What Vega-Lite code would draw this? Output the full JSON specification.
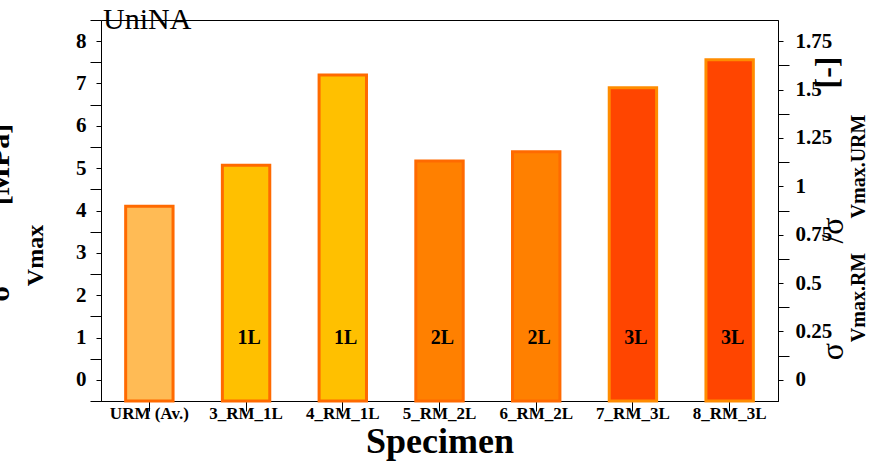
{
  "$schema": "https://vega.github.io/schema/vega-lite/v6.json",
  "width": 677,
  "height": 381,
  "autosize": {"type": "none"},
  "padding": {"left": 101, "top": 20, "right": 91, "bottom": 64},
  "background": "white",
  "config": {
    "view": {"stroke": "black", "strokeWidth": 1},
    "font": "Liberation Serif",
    "axis": {"domainColor": "black", "tickColor": "black", "labelColor": "black", "titleColor": "black", "grid": false, "labelFont": "Liberation Serif", "titleFont": "Liberation Serif"}
  },
  "title": {"text": "UniNA", "anchor": "start", "frame": "group", "font": "Liberation Serif", "fontSize": 30, "fontWeight": "normal", "baseline": "alphabetic", "offset": -39, "dx": 2, "color": "black"},
  "data": {"values": [
    {"specimen": "URM (Av.)", "stress": 4.1, "group": "URM", "label": ""},
    {"specimen": "3_RM_1L", "stress": 5.07, "group": "1L", "label": "1L"},
    {"specimen": "4_RM_1L", "stress": 7.2, "group": "1L", "label": "1L"},
    {"specimen": "5_RM_2L", "stress": 5.17, "group": "2L", "label": "2L"},
    {"specimen": "6_RM_2L", "stress": 5.39, "group": "2L", "label": "2L"},
    {"specimen": "7_RM_3L", "stress": 6.9, "group": "3L", "label": "3L"},
    {"specimen": "8_RM_3L", "stress": 7.56, "group": "3L", "label": "3L"}
  ]},
  "encoding": {
    "x": {"field": "specimen", "type": "nominal", "sort": null,
      "scale": {"paddingInner": 0.51, "paddingOuter": 0.255},
      "axis": {"title": "Specimen", "labelAngle": 0, "tickSize": 10, "labelPadding": -6, "labelFontSize": 17, "labelFontWeight": "bold", "titleFontSize": 36, "titleFontWeight": "bold", "titleY": 51, "titleBaseline": "alphabetic"}}
  },
  "layer": [
    {
      "mark": {"type": "bar", "strokeWidth": 3},
      "encoding": {
        "y": {"field": "stress", "type": "quantitative", "scale": {"domain": [-0.5, 8.5], "nice": false, "zero": false},
          "axis": {"orient": "left", "values": [0, 1, 2, 3, 4, 5, 6, 7, 8], "tickSize": 5, "labelPadding": 10, "labelFontSize": 21, "labelFontWeight": "bold",
            "title": "[MPa]", "titleFontSize": 30, "titleFontWeight": "bold", "titleAngle": 270, "titleAlign": "center", "titleBaseline": "alphabetic", "titleX": -93, "titleY": 144}},
        "y2": {"datum": -0.5},
        "fill": {"field": "group", "type": "nominal", "scale": {"domain": ["URM", "1L", "2L", "3L"], "range": ["#FFBB55", "#FFC000", "#FF8000", "#FF4500"]}, "legend": null},
        "stroke": {"field": "group", "type": "nominal", "scale": {"domain": ["URM", "1L", "2L", "3L"], "range": ["#FF6A00", "#FF6A00", "#FF6A00", "#FF8C00"]}, "legend": null}
      }
    },
    {
      "transform": [{"filter": "datum.label != ''"}],
      "mark": {"type": "text", "font": "Liberation Serif", "fontSize": 20, "fontWeight": "bold", "fill": "black", "dx": 3, "baseline": "middle"},
      "encoding": {
        "text": {"field": "label"},
        "y": {"datum": 1, "type": "quantitative", "scale": {"domain": [-0.5, 8.5], "nice": false, "zero": false},
          "axis": {"orient": "left", "values": [-0.5, 0.5, 1.5, 2.5, 3.5, 4.5, 5.5, 6.5, 7.5, 8.5], "tickSize": 11, "labels": false, "domain": false,
            "title": "Vmax", "titleFontSize": 24, "titleFontWeight": "bold", "titleAngle": 270, "titleAlign": "center", "titleBaseline": "alphabetic", "titleX": -59, "titleY": 235}}
      }
    },
    {
      "mark": {"type": "point", "opacity": 0, "size": 0},
      "encoding": {
        "y": {"datum": 0, "type": "quantitative", "scale": {"domain": [-0.5, 8.5], "nice": false, "zero": false},
          "axis": {"orient": "left", "ticks": false, "labels": false, "domain": false,
            "title": "σ", "titleFontSize": 30, "titleFontWeight": "bold", "titleAngle": 270, "titleAlign": "center", "titleBaseline": "alphabetic", "titleX": -93, "titleY": 273}}
      }
    },
    {
      "mark": {"type": "point", "opacity": 0, "size": 0},
      "encoding": {
        "y": {"datum": 0, "type": "quantitative", "scale": {"domain": [-0.109375, 1.859375], "nice": false, "zero": false},
          "axis": {"orient": "right", "values": [0, 0.25, 0.5, 0.75, 1, 1.25, 1.5, 1.75], "format": ".3~g", "tickSize": 5, "labelPadding": 12, "labelFontSize": 21, "labelFontWeight": "bold", "labelAlign": "left",
            "title": "[-]", "titleFontSize": 32, "titleFontWeight": "bold", "titleAngle": 270, "titleAlign": "center", "titleBaseline": "alphabetic", "titleX": 58, "titleY": 52}}
      }
    },
    {
      "mark": {"type": "point", "opacity": 0, "size": 0},
      "encoding": {
        "y": {"datum": 0, "type": "quantitative", "scale": {"domain": [-0.109375, 1.859375], "nice": false, "zero": false},
          "axis": {"orient": "right", "values": [0.125, 0.375, 0.625, 0.875, 1.125, 1.375, 1.625], "tickSize": 11, "labels": false, "domain": false,
            "title": "Vmax.RM", "titleFontSize": 20, "titleFontWeight": "bold", "titleAngle": 270, "titleAlign": "center", "titleBaseline": "alphabetic", "titleX": 86, "titleY": 277}}
      }
    },
    {
      "mark": {"type": "point", "opacity": 0, "size": 0},
      "encoding": {
        "y": {"datum": 0, "type": "quantitative", "scale": {"domain": [-0.109375, 1.859375], "nice": false, "zero": false},
          "axis": {"orient": "right", "ticks": false, "labels": false, "domain": false,
            "title": "σ", "titleFontSize": 32, "titleFontWeight": "normal", "titleAngle": 270, "titleAlign": "center", "titleBaseline": "alphabetic", "titleX": 64, "titleY": 331}}
      }
    },
    {
      "mark": {"type": "point", "opacity": 0, "size": 0},
      "encoding": {
        "y": {"datum": 0, "type": "quantitative", "scale": {"domain": [-0.109375, 1.859375], "nice": false, "zero": false},
          "axis": {"orient": "right", "ticks": false, "labels": false, "domain": false,
            "title": "/σ", "titleFontSize": 32, "titleFontWeight": "normal", "titleAngle": 270, "titleAlign": "center", "titleBaseline": "alphabetic", "titleX": 64, "titleY": 210}}
      }
    },
    {
      "mark": {"type": "point", "opacity": 0, "size": 0},
      "encoding": {
        "y": {"datum": 0, "type": "quantitative", "scale": {"domain": [-0.109375, 1.859375], "nice": false, "zero": false},
          "axis": {"orient": "right", "ticks": false, "labels": false, "domain": false,
            "title": "Vmax.URM", "titleFontSize": 20, "titleFontWeight": "bold", "titleAngle": 270, "titleAlign": "center", "titleBaseline": "alphabetic", "titleX": 86, "titleY": 146}}
      }
    }
  ],
  "resolve": {"scale": {"y": "independent"}, "axis": {"y": "independent"}}
}
